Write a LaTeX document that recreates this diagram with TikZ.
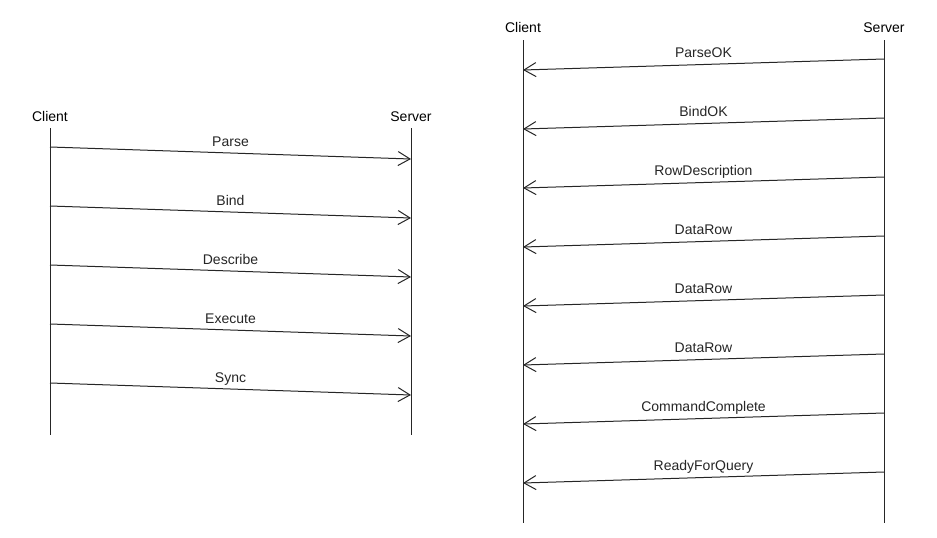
\documentclass[tikz,border=0pt]{standalone}
\usepackage{fontspec}
\setmainfont{Liberation Sans}
\usetikzlibrary{arrows.meta}
\begin{document}
\begin{tikzpicture}[x=1pt,y=-1pt,
  hdr/.style={font=\fontsize{14}{16}\selectfont, anchor=base, inner sep=0pt},
  lifeline/.style={line width=1pt, black!85},
  msg/.style={line width=1pt, black!85, -{Straight Barb[length=12pt,width=14pt,line width=1pt]}},
  lbl/.style={font=\fontsize{14}{16}\selectfont, anchor=base, inner sep=0pt, yshift=7pt}]
\fill[white] (0,0) rectangle (937,538);
\useasboundingbox (0,0) rectangle (937,538);
% ---------- left diagram ----------
\node[hdr] (lc) at (50,121) {Client};
\node[hdr] (ls) at (411,121) {Server};
\coordinate (lctop) at (50,128);
\coordinate (lcbot) at (50,435);
\coordinate (lstop) at (411,128);
\coordinate (lsbot) at (411,435);
\draw[lifeline] (lctop) -- (lcbot);
\draw[lifeline] (lstop) -- (lsbot);
\foreach \i/\t in {0/Parse,1/Bind,2/Describe,3/Execute,4/Sync}{
  \coordinate (la\i) at (50,{147+59*\i});
  \coordinate (lb\i) at (411,{159+59*\i});
  \draw[msg] (la\i) -- node[lbl] {\t} (lb\i);
}
% ---------- right diagram ----------
\node[hdr] (rc) at (523,32) {Client};
\node[hdr] (rs) at (884,32) {Server};
\coordinate (rctop) at (523,40);
\coordinate (rcbot) at (523,523);
\coordinate (rstop) at (884,40);
\coordinate (rsbot) at (884,523);
\draw[lifeline] (rctop) -- (rcbot);
\draw[lifeline] (rstop) -- (rsbot);
\foreach \i/\t in {0/ParseOK,1/BindOK,2/RowDescription,3/DataRow,4/DataRow,5/DataRow,6/CommandComplete,7/ReadyForQuery}{
  \coordinate (ra\i) at (884,{59+59*\i});
  \coordinate (rb\i) at (523,{70+59*\i});
  \draw[msg] (ra\i) -- node[lbl] {\t} (rb\i);
}
\end{tikzpicture}
\end{document}
